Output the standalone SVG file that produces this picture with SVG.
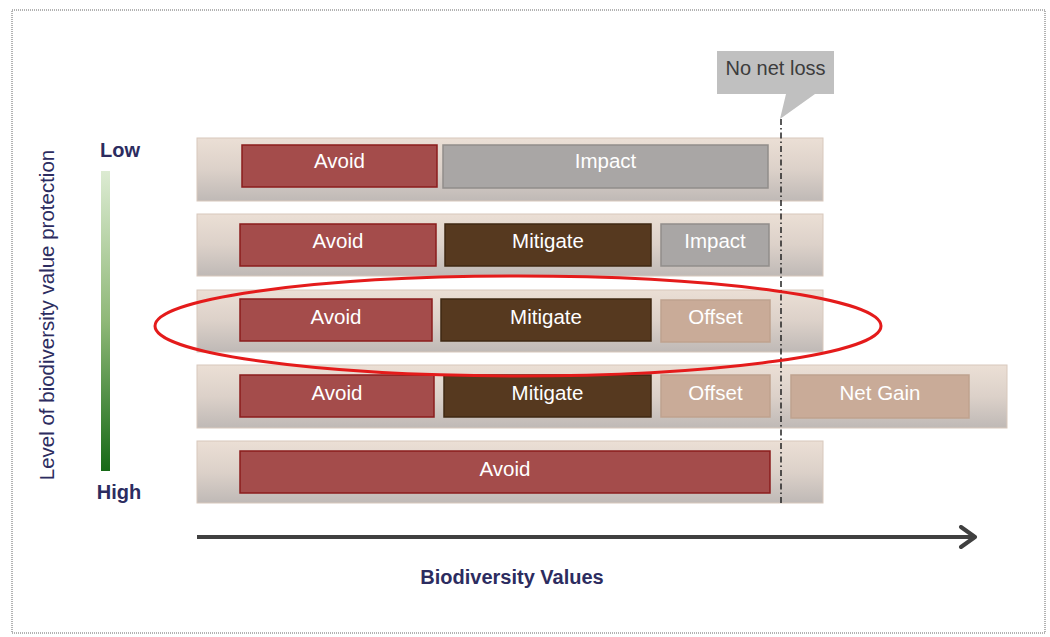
<svg xmlns="http://www.w3.org/2000/svg" width="1050" height="637" viewBox="0 0 1050 637">
<defs>
<linearGradient id="band" x1="0" y1="0" x2="0" y2="1">
<stop offset="0" stop-color="#ebdfd5"/>
<stop offset="0.5" stop-color="#dcd1c9"/>
<stop offset="1" stop-color="#bfb9b6"/>
</linearGradient>
<linearGradient id="green" x1="0" y1="0" x2="0" y2="1">
<stop offset="0" stop-color="#dcebd2"/>
<stop offset="0.5" stop-color="#8fb878"/>
<stop offset="1" stop-color="#176a17"/>
</linearGradient>
<marker id="chev" viewBox="0 0 20 24" refX="17" refY="12" markerWidth="5" markerHeight="6" markerUnits="strokeWidth" orient="auto">
<path d="M3,2 L17,12 L3,22" fill="none" stroke="#404040" stroke-width="4" stroke-linecap="round" stroke-linejoin="round"/>
</marker>
<style>
.band{fill:url(#band);stroke:#d8c8bc;stroke-width:1}
.avoid{fill:#a44c4b;stroke:#8b1c1c;stroke-width:1.5}
.mit{fill:#56391f;stroke:#3f2913;stroke-width:1.5}
.imp{fill:#a9a6a5;stroke:#918d8b;stroke-width:1.5}
.off{fill:#c9ab98;stroke:#bfa28e;stroke-width:1.5}
.lbl{font-family:"Liberation Sans",Arial,sans-serif;font-size:20.5px;fill:#ffffff;text-anchor:middle}
.navy{font-family:"Liberation Sans",Arial,sans-serif;fill:#2c2c60}
</style>
</defs>
<rect width="1050" height="637" fill="#ffffff"/>
<rect x="12" y="10" width="1033" height="623" fill="none" stroke="#666" stroke-width="1" stroke-dasharray="1,1"/>

<g id="axis-y">
<rect x="101" y="171" width="9" height="300" fill="url(#green)"/>
<text class="navy" x="120" y="157" font-size="20" font-weight="bold" text-anchor="middle">Low</text>
<text class="navy" x="119" y="499" font-size="20" font-weight="bold" text-anchor="middle">High</text>
<text class="navy" transform="translate(54,315) rotate(-90)" font-size="20.5" text-anchor="middle">Level of biodiversity value protection</text>
</g>

<g id="row1">
<rect class="band" x="197" y="138" width="626" height="63"/>
<rect class="avoid" x="242" y="145" width="195" height="42"/>
<text class="lbl" x="339.5" y="168">Avoid</text>
<rect class="imp" x="443" y="145" width="325" height="43"/>
<text class="lbl" x="605.5" y="168">Impact</text>
</g>

<g id="row2">
<rect class="band" x="197" y="214" width="626" height="62"/>
<rect class="avoid" x="240" y="224" width="196" height="42"/>
<text class="lbl" x="338" y="248">Avoid</text>
<rect class="mit" x="445" y="224" width="206" height="42"/>
<text class="lbl" x="548" y="248">Mitigate</text>
<rect class="imp" x="661" y="224" width="108" height="42"/>
<text class="lbl" x="715" y="248">Impact</text>
</g>

<g id="row3">
<rect class="band" x="197" y="290" width="626" height="62"/>
<rect class="avoid" x="240" y="299" width="192" height="42"/>
<text class="lbl" x="336" y="324">Avoid</text>
<rect class="mit" x="441" y="299" width="210" height="42"/>
<text class="lbl" x="546" y="324">Mitigate</text>
<rect class="off" x="661" y="300" width="109" height="42"/>
<text class="lbl" x="715.5" y="324">Offset</text>
</g>

<g id="row4">
<rect class="band" x="197" y="365" width="810" height="63"/>
<rect class="avoid" x="240" y="375" width="194" height="42"/>
<text class="lbl" x="337" y="400">Avoid</text>
<rect class="mit" x="444" y="375" width="207" height="42"/>
<text class="lbl" x="547.5" y="400">Mitigate</text>
<rect class="off" x="661" y="375" width="109" height="42"/>
<text class="lbl" x="715.5" y="400">Offset</text>
<rect class="off" x="791" y="375" width="178" height="43"/>
<text class="lbl" x="880" y="400">Net Gain</text>
</g>

<g id="row5">
<rect class="band" x="197" y="441" width="626" height="62"/>
<rect class="avoid" x="240" y="451" width="530" height="42"/>
<text class="lbl" x="505" y="476">Avoid</text>
</g>

<g id="callout">
<polygon points="717,51 834,51 834,94 815,94 780,119 786,94 717,94" fill="#c0c0c0"/>
<text x="775.5" y="75" font-family="'Liberation Sans',Arial,sans-serif" font-size="20" fill="#3c3c3c" text-anchor="middle">No net loss</text>
</g>

<g id="connectors">
<line x1="781" y1="119" x2="781" y2="505" stroke="#222" stroke-width="1.5" stroke-dasharray="6,3,1.5,3"/>
<line x1="197" y1="537" x2="975" y2="537" stroke="#404040" stroke-width="4" marker-end="url(#chev)"/>
</g>

<g id="highlight">
<ellipse cx="518" cy="326" rx="363" ry="50" fill="none" stroke="#e41b1b" stroke-width="3"/>
</g>

<text class="navy" x="512" y="584" font-size="20" font-weight="bold" text-anchor="middle">Biodiversity Values</text>
</svg>
